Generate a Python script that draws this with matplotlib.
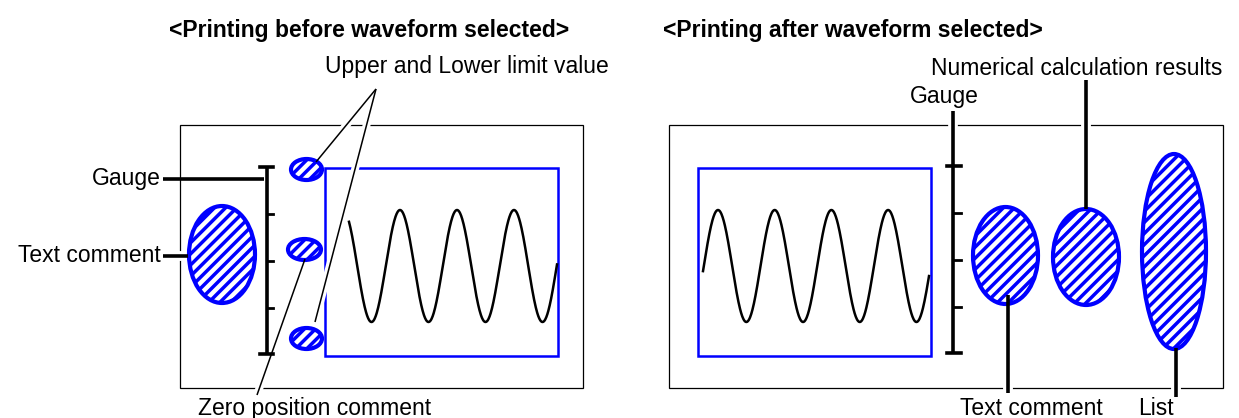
import numpy as np
import matplotlib
matplotlib.use('Agg')
import matplotlib.pyplot as plt
from matplotlib.patches import Ellipse, Rectangle

plt.rcParams['font.family'] = ['Liberation Sans', 'DejaVu Sans']
plt.rcParams['hatch.linewidth'] = 2.5

BLUE = '#0000ff'

# panel titles and labels: (text, x, baseline y, align)
titles = [('<Printing before waveform selected>', 169, 37),
          ('<Printing after waveform selected>', 663, 37)]
labels = [('Upper and Lower limit value', 325, 73, 'left'),
          ('Numerical calculation results', 931, 75, 'left'),
          ('Gauge', 910, 103, 'left'),
          ('Gauge', 161, 185, 'right'),
          ('Text comment', 161, 262, 'right'),
          ('Zero position comment', 198, 415, 'left'),
          ('Text comment', 960, 415, 'left'),
          ('List', 1138, 415, 'left')]

# outer print frames (x0, y0, x1, y1) in pixels
frames = [(180, 125, 583, 388), (669, 125, 1223, 388)]
# blue waveform windows
windows = [(325, 168, 558, 356), (698, 168, 931, 356)]

# waveform: x start, x end, first peak x, period, mid y, amplitude
waves = [(349, 557, 400, 57.0, 266, 56),
         (703, 929, 718, 56.7, 266, 56)]

# gauges: x, top, bottom, leader top, tick ys, cap left, cap right
gauges = [(267, 167, 354, 167, [214, 261, 308], 260, 273),
          (953, 166, 353, 111, [213, 260, 307], 947, 961)]

# hatched blobs: cx, cy, width, height
blobs = [(222, 254.5, 66, 97),
         (306.5, 169.5, 31, 21),
         (304.5, 249.5, 33, 21),
         (306.5, 338.5, 31, 21),
         (1005.5, 255.5, 65, 97),
         (1086, 257, 66, 96),
         (1174, 251.5, 64, 195)]

# leader lines: x0, y0, x1, y1, width (pt), white gap around
leaders = [(163, 179, 264, 179, 2.6, False),
           (163, 256, 188, 256, 2.6, True),
           (376, 89, 316, 162, 1.1, True),
           (376, 89, 315, 322, 1.1, True),
           (305, 259, 257, 395, 1.1, True),
           (1086, 80, 1086, 209, 2.6, True),
           (1008, 295, 1008, 393, 2.6, True),
           (1176, 348, 1176, 397, 2.6, True)]

fig = plt.figure(figsize=(12.39, 4.18), dpi=100)
ax = fig.add_axes([0, 0, 1, 1])
ax.set_xlim(0, 1239)
ax.set_ylim(418, 0)
ax.axis('off')

for x0, y0, x1, y1 in frames:
    ax.add_patch(Rectangle((x0, y0), x1 - x0, y1 - y0, fill=False,
                           edgecolor='black', lw=0.9, zorder=1))

for x0, y0, x1, y1 in windows:
    ax.add_patch(Rectangle((x0, y0), x1 - x0, y1 - y0, fill=False,
                           edgecolor=BLUE, lw=1.8, zorder=1.5))

for xs, xe, xp, per, ym, amp in waves:
    x = np.linspace(xs, xe, 600)
    ax.plot(x, ym - amp * np.cos(2 * np.pi * (x - xp) / per),
            color='black', lw=1.8, zorder=1.6)

for x0, y0, x1, y1, lw, gap in leaders:
    if gap:
        ax.plot([x0, x1], [y0, y1], color='white', lw=lw + 4.5,
                solid_capstyle='butt', zorder=3)
    ax.plot([x0, x1], [y0, y1], color='black', lw=lw,
            solid_capstyle='butt', zorder=6)

for gx, top, bot, lead, ticks, cl, cr in gauges:
    if lead < top:
        ax.plot([gx, gx], [lead, top], color='white', lw=7,
                solid_capstyle='butt', zorder=3)
    ax.plot([gx, gx], [lead, bot], color='black', lw=2.6,
            solid_capstyle='butt', zorder=5)
    ax.plot([cl, cr], [top, top], color='black', lw=2.6, zorder=5)
    ax.plot([cl, cr], [bot, bot], color='black', lw=2.6, zorder=5)
    for ty in ticks:
        ax.plot([gx, cr], [ty, ty], color='black', lw=2.0, zorder=5)

for cx, cy, w, h in blobs:
    ax.add_patch(Ellipse((cx, cy), w, h, facecolor='white', edgecolor=BLUE,
                         hatch='///', lw=3.0, zorder=4))

for txt, x, y in titles:
    ax.text(x, y, txt, fontsize=16.5, fontweight='bold', ha='left',
            va='baseline', zorder=7)
for txt, x, y, ha in labels:
    ax.text(x, y, txt, fontsize=16.5, ha=ha, va='baseline', zorder=7)

fig.savefig('out.png', dpi=100)
